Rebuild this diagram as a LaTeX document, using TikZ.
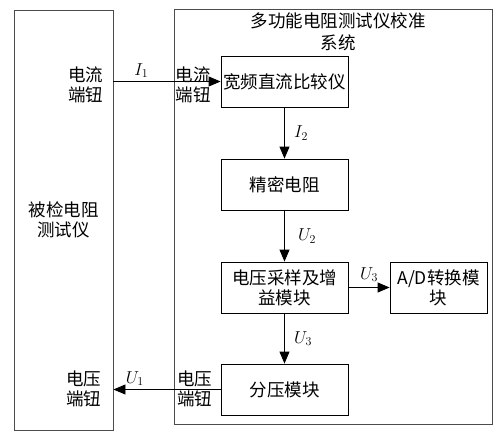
\documentclass[tikz,border=0pt]{standalone}
\usepackage{fontspec}
\setmainfont{Noto Sans CJK SC}
\usetikzlibrary{arrows.meta}

\begin{document}
\begin{tikzpicture}[x=1pt,y=-1pt,font=\fontsize{17.5}{20}\selectfont,
  block/.style={draw,line width=0.8pt,minimum width=127pt,minimum height=51pt,align=center,inner sep=1pt},
  frame/.style={draw=black!70,line width=0.9pt,align=center},
  flow/.style={-{Triangle[length=12pt,width=10pt]},line width=0.8pt},
  port/.style={align=center,inner sep=0pt}]
\useasboundingbox (0,0) rectangle (501,439);

% Instrument under test
\node[frame,minimum width=99pt,minimum height=420pt] (dut) at (63.5,220) {被检电阻\\测试仪};

% Calibration system
\node[frame,minimum width=318pt,minimum height=415pt] (sys) at (333,217) {};
\node[align=center,below,font=\fontsize{17.5}{22}\selectfont,xshift=5pt] (title) at (sys.north) {多功能电阻测试仪校准\\系统};

% Blocks
\node[block] (cmp) at (284.5,81.5) {宽频直流比较仪};
\node[block] (res) at (284.5,184.5) {精密电阻};
\node[block] (samp) at (284.5,287.5) {电压采样及增\\益模块};
\node[block] (div) at (284.5,389.5) {分压模块};
\node[block,minimum width=97pt] (ad) at (438.5,287.5) {A/D转换模\\块};

% Terminals
\coordinate (iin) at (dut.east |- cmp.west);
\coordinate (uout) at (dut.east |- div.west);
\node[port,anchor=east] (ilab) at ([shift={(-10,3)}]iin) {电流\\端钮};
\node[port,anchor=west] (ilab2) at ([shift={(2,3)}]sys.west |- cmp.west) {电流\\端钮};
\node[port,anchor=east] (ulab) at ([shift={(-12,-1)}]uout) {电压\\端钮};
\node[port,anchor=east] (ulab2) at ([shift={(-8,-1)}]div.west) {电压\\端钮};

% Signals
\draw[flow] (iin) -- node[pos=0.26,above] (i1) {$I_1$} (cmp.west);
\draw[flow] (cmp.south) -- node[right,xshift=6pt] (i2) {$I_2$} (res.north);
\draw[flow] (res.south) -- node[right,xshift=10pt] (u2) {$U_2$} (samp.north);
\draw[flow] (samp.east) -- node[above,yshift=2pt] (u3a) {$U_3$} (ad.west);
\draw[flow] (samp.south) -- node[right,xshift=6pt] (u3b) {$U_3$} (div.north);
\draw[flow] (div.west) -- node[pos=0.8,above] (u1) {$U_1$} (uout);
\end{tikzpicture}
\end{document}
